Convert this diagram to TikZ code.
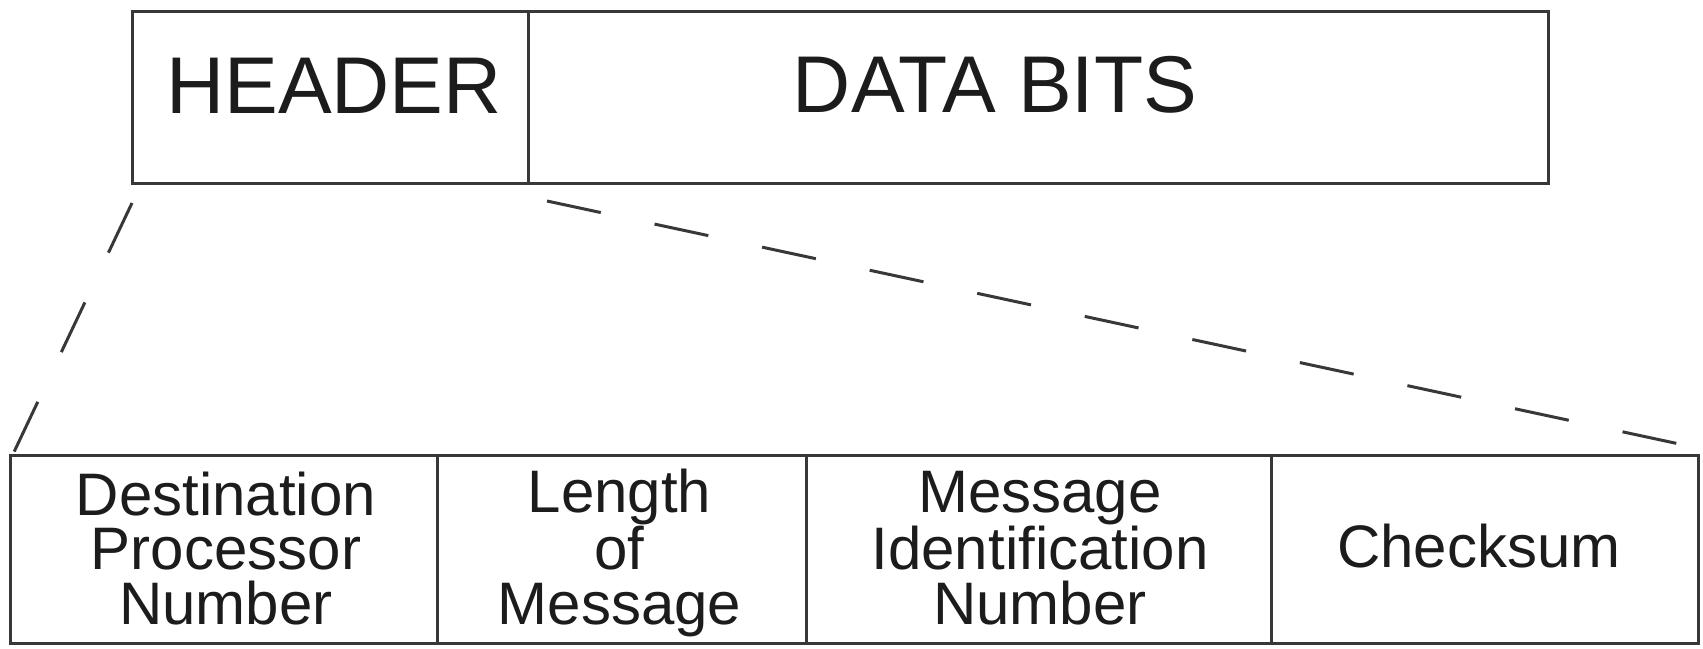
\documentclass[tikz,border=0pt]{standalone}
\usepackage{fontspec}
\setmainfont{Liberation Sans}
\definecolor{ink}{HTML}{383838}
\definecolor{txt}{HTML}{1C1C1C}
\begin{document}
\begin{tikzpicture}[x=1pt,y=-1pt,
  cell/.style={draw=ink, line width=3pt, inner sep=0pt, outer sep=0pt},
  big/.style={font=\fontsize{80.5}{80}\selectfont, text=txt, inner sep=0pt, anchor=base},
  small/.style={font=\fontsize{60}{54.5}\selectfont, text=txt, inner sep=0pt, align=center, anchor=base},
  zoomline/.style={draw=ink, line width=3pt, dash pattern=on 55pt off 55pt}]
\useasboundingbox (0,0) rectangle (1703,648);

% packet: header and data fields
\node[cell, minimum width=396pt, minimum height=172pt] (header) at (330,97) {};
\node[cell, minimum width=1020pt, minimum height=172pt] (data) at (1038,97) {};
\node[big] (header-label) at (334,113) {HEADER};
\node[big] (data-label) at (995,112) {DATA BITS};

% expanded header fields
\node[cell, minimum width=427pt, minimum height=188pt] (dest) at (223.5,549) {};
\node[cell, minimum width=369pt, minimum height=188pt] (len) at (621.5,549) {};
\node[cell, minimum width=465pt, minimum height=188pt] (msgid) at (1038.5,549) {};
\node[cell, minimum width=427pt, minimum height=188pt] (chk) at (1484.5,549) {};

% multi-line labels are placed by the baseline of their last line
\node[small] (dest-label) at (226,624) {Destination\\Processor\\Number};
\node[small] (len-label) at (619.5,624) {Length\\of\\Message};
\node[small] (msgid-label) at (1040,624) {Message\\Identification\\Number};
\node[small] (chk-label) at (1479,567) {Checksum};

% dashed zoom lines from the header to the expanded fields
\coordinate (hdr-left) at (132,203);
\coordinate (dest-corner) at (14,452);
\coordinate (hdr-right) at (547,201);
\coordinate (chk-corner) at (1698,448);
\draw[zoomline] (hdr-left) -- (dest-corner);
\draw[zoomline] (hdr-right) -- (chk-corner);
\end{tikzpicture}
\end{document}
